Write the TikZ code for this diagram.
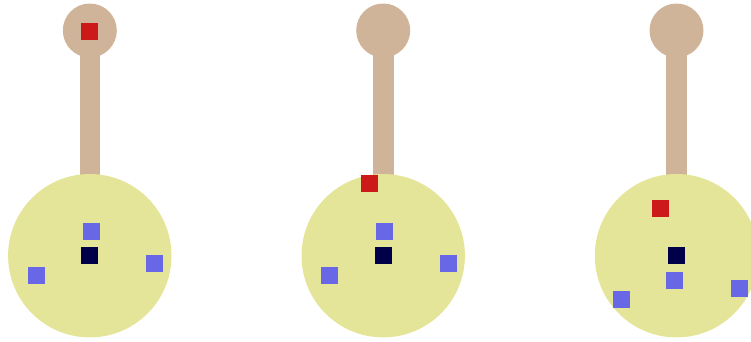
\documentclass[tikz,border=0pt]{standalone}
\usepackage{xcolor}
\usepackage{tikz}

\definecolor{stemtan}{RGB}{207,180,153}
\definecolor{bodyyellow}{RGB}{229,229,153}
\definecolor{dotblue}{RGB}{104,104,230}
\definecolor{dotnavy}{RGB}{0,0,72}
\definecolor{dotred}{RGB}{204,26,26}

\begin{document}
\begin{tikzpicture}[x=1pt, y=-1pt,
    dot/.style={minimum size=17pt, inner sep=0pt, outer sep=0pt},
    blue dot/.style={dot, fill=dotblue},
    navy dot/.style={dot, fill=dotnavy},
    red dot/.style={dot, fill=dotred}]

    \useasboundingbox (0,0) rectangle (751,341);

    % Первая фигура
    \fill[stemtan] (79.5,30) rectangle (100,200);
    \fill[stemtan] (89.8,30.5) circle (27);
    \fill[bodyyellow] (89.8,255.7) circle (81.7);
    \node[red dot]  (r1) at (89.5,31.5) {};
    \node[blue dot] (a1) at (91.5,231.5) {};
    \node[navy dot] (c1) at (89.5,255.5) {};
    \node[blue dot] (b1) at (154.5,263.5) {};
    \node[blue dot] (d1) at (36.5,275.5) {};

    % Вторая фигура
    \fill[stemtan] (373,30) rectangle (393.5,200);
    \fill[stemtan] (383.2,30.5) circle (27);
    \fill[bodyyellow] (383.2,255.7) circle (81.7);
    \node[red dot]  (r2) at (369.5,183.5) {};
    \node[blue dot] (a2) at (384.5,231.5) {};
    \node[navy dot] (c2) at (383.5,255.5) {};
    \node[blue dot] (b2) at (448.5,263.5) {};
    \node[blue dot] (d2) at (329.5,275.5) {};

    % Третья фигура
    \fill[stemtan] (666.3,30) rectangle (686.8,200);
    \fill[stemtan] (676.5,30.5) circle (27);
    \fill[bodyyellow] (676.5,255.7) circle (81.7);
    \node[red dot]  (r3) at (660.5,208.5) {};
    \node[navy dot] (c3) at (676.5,255.5) {};
    \node[blue dot] (a3) at (674.5,280.5) {};
    \node[blue dot] (b3) at (739.5,288.5) {};
    \node[blue dot] (d3) at (621.5,299.5) {};

\end{tikzpicture}
\end{document}
